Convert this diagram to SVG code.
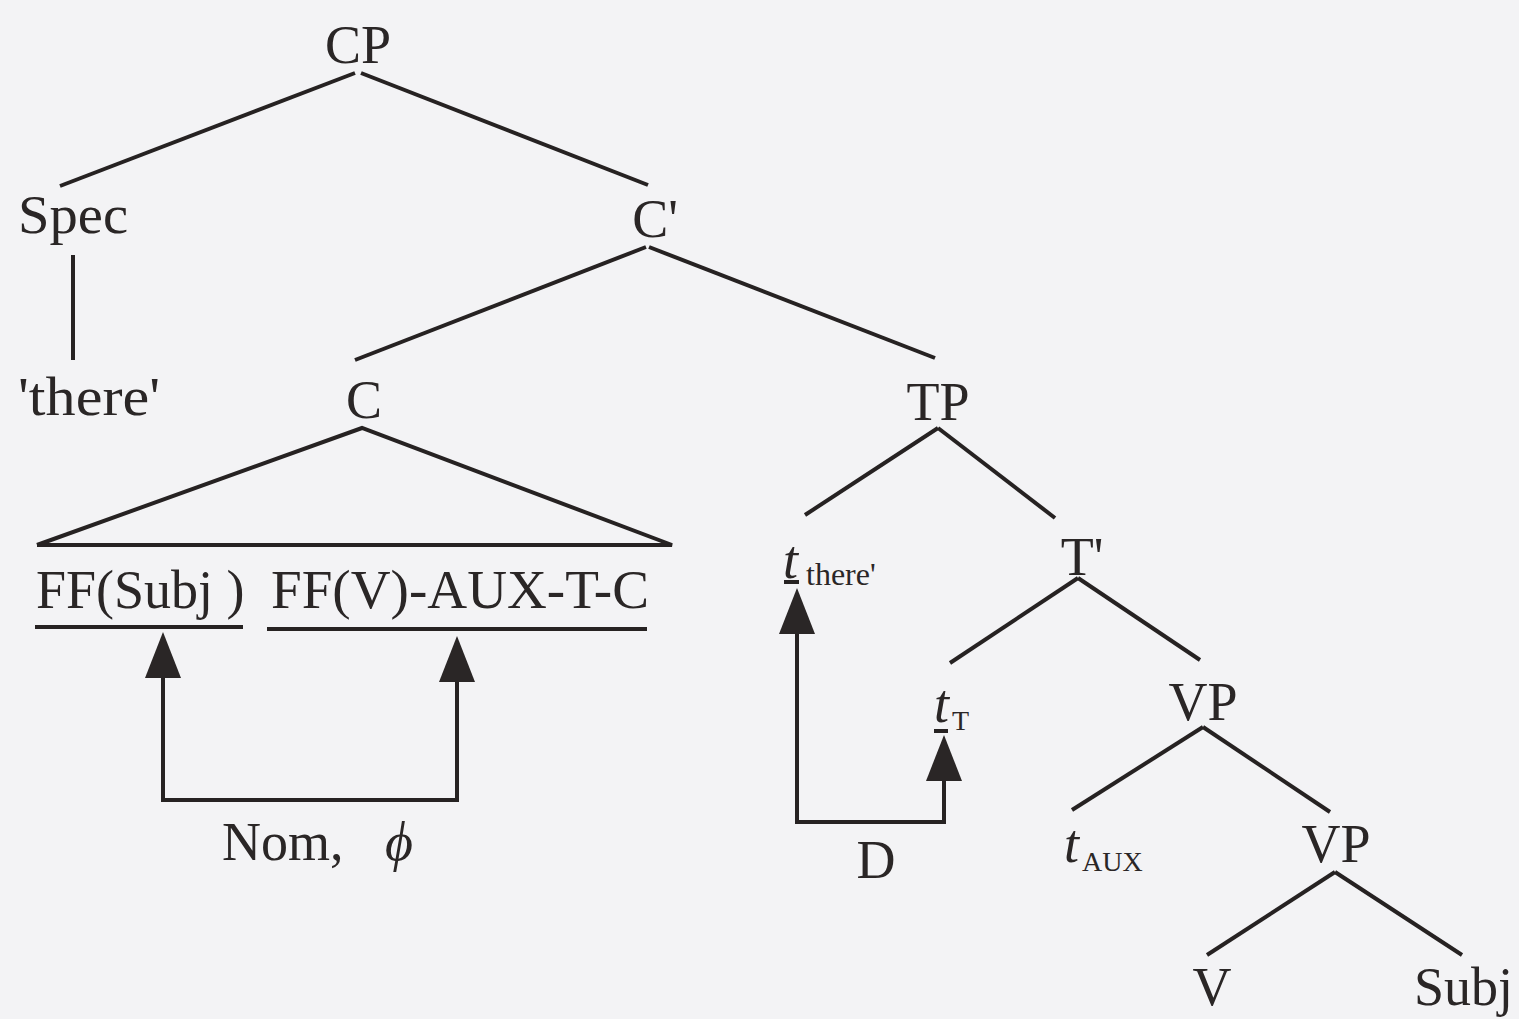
<svg xmlns="http://www.w3.org/2000/svg" width="1519" height="1019" viewBox="0 0 1519 1019">
<style>
text{font-family:"Liberation Serif","Times New Roman",serif;fill:#2a2626;font-size:54px}
.m{text-anchor:middle}
.i{font-style:italic}
.sub{font-size:32px}
.sm{font-size:28px}
line,polyline{stroke:#262222;stroke-width:4;fill:none;stroke-linecap:butt}
.ah{fill:#2a2626;stroke:none}
</style>
<defs>
<path id="head" d="M0,0 L-18,46 L18,46 Z"/>
</defs>
<rect width="1519" height="1019" fill="#f3f3f5"/>
<g id="connectors">
<line x1="355" y1="73" x2="60" y2="186"/>
<line x1="361" y1="73" x2="648" y2="185"/>
<line x1="73" y1="255" x2="73" y2="360"/>
<line x1="646" y1="247" x2="355" y2="360"/>
<line x1="649" y1="247" x2="935" y2="358"/>
<polyline points="37,545 362,428 672,545 37,545"/>
<line x1="938" y1="428" x2="805" y2="515"/>
<line x1="938" y1="428" x2="1055" y2="518"/>
<line x1="1078" y1="578" x2="950" y2="663"/>
<line x1="1078" y1="578" x2="1200" y2="660"/>
<line x1="1203" y1="727" x2="1072" y2="810"/>
<line x1="1203" y1="727" x2="1330" y2="812"/>
<line x1="1335" y1="872" x2="1207" y2="955"/>
<line x1="1335" y1="872" x2="1462" y2="955"/>
<line x1="35" y1="627" x2="243" y2="627"/>
<line x1="267" y1="629" x2="647" y2="629"/>
<line x1="784" y1="582" x2="799" y2="582" stroke-width="3"/>
<line x1="934" y1="731" x2="948" y2="731" stroke-width="3"/>
<polyline points="163,670 163,800 457,800 457,670"/>
<use href="#head" x="163" y="632" class="ah"/>
<use href="#head" x="457" y="636" class="ah"/>
<polyline points="797,620 797,822 944,822 944,770"/>
<use href="#head" x="797" y="588" class="ah"/>
<use href="#head" x="944" y="735" class="ah"/>
</g>
<g id="CP"><text class="m" x="358" y="63">CP</text></g>
<g id="Spec"><text x="18" y="233" textLength="110" lengthAdjust="spacingAndGlyphs">Spec</text></g>
<g id="there"><text x="18" y="415" textLength="142" lengthAdjust="spacingAndGlyphs">'there'</text></g>
<g id="Cbar"><text class="m" x="655" y="237">C'</text></g>
<g id="C"><text class="m" x="364" y="418">C</text></g>
<g id="TP"><text class="m" x="938" y="420">TP</text></g>
<g id="FFSubj"><text x="36" y="608">FF(Subj )</text></g>
<g id="FFV"><text x="271" y="608" textLength="378" lengthAdjust="spacingAndGlyphs">FF(V)-AUX-T-C</text></g>
<g id="Nom"><text x="222" y="860">Nom, <tspan class="i" x="385">ϕ</tspan></text></g>
<g id="tthere"><text class="i" x="783" y="578">t</text><text class="sub" x="806" y="585">there'</text></g>
<g id="Tbar"><text class="m" x="1082" y="575">T'</text></g>
<g id="tT"><text class="i" x="934" y="722">t</text><text class="sm" x="952" y="730">T</text></g>
<g id="VP1"><text class="m" x="1203" y="720">VP</text></g>
<g id="D"><text class="m" x="876" y="878">D</text></g>
<g id="tAUX"><text class="i" x="1064" y="862">t</text><text class="sm" x="1082" y="871">AUX</text></g>
<g id="VP2"><text class="m" x="1336" y="862">VP</text></g>
<g id="V"><text class="m" x="1212" y="1005">V</text></g>
<g id="Subj"><text x="1414" y="1005">Subj</text></g>
</svg>
